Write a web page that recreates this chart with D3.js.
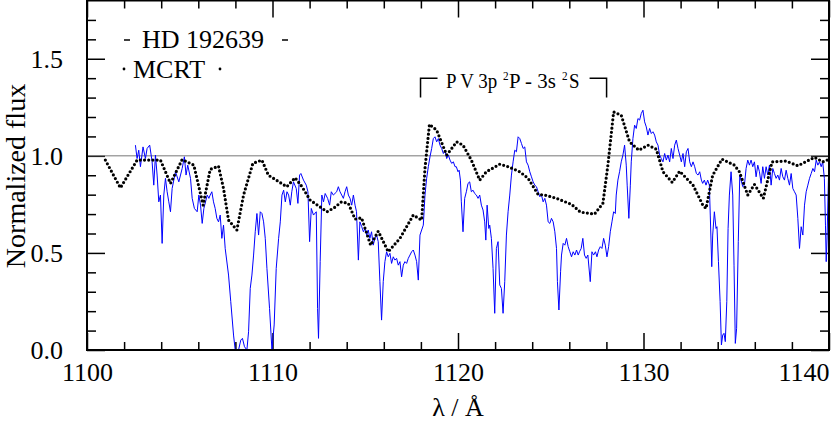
<!DOCTYPE html>
<html>
<head>
<meta charset="utf-8">
<script src="https://cdn.jsdelivr.net/npm/d3@7"></script>
<style>
body { margin: 0; background: #fff; }
</style>
</head>
<body>
<div id="spectrum"></div>
<script>
//
// Data read off the plot: observed spectrum (HD 192639) and MCRT model,
// as [wavelength (A), normalized flux] pairs
//
var observed = [
[1102.61,1.055],[1102.70,0.986],[1102.79,1.029],[1102.88,0.944],[1103.02,1.046],[1103.15,0.986],
[1103.24,1.038],[1103.38,1.055],[1103.51,0.969],[1103.60,0.849],[1103.69,1.004],[1103.78,0.901],
[1103.87,0.763],[1103.96,0.798],[1104.05,0.549],[1104.14,0.798],[1104.23,0.884],[1104.32,0.815],
[1104.41,0.763],[1104.50,0.712],[1104.59,0.832],[1104.77,0.918],[1104.95,0.866],[1105.13,0.935],
[1105.25,0.995],[1105.34,0.901],[1105.43,0.952],[1105.58,0.884],[1105.67,0.781],[1105.79,0.729],
[1105.94,0.712],[1106.03,0.798],[1106.12,0.746],[1106.21,0.652],[1106.30,0.729],[1106.48,0.798],
[1106.57,0.781],[1106.64,0.798],[1106.73,0.815],[1106.82,0.763],[1106.91,0.729],[1107.00,0.678],
[1107.09,0.660],[1107.18,0.695],[1107.27,0.575],[1107.36,0.643],[1107.45,0.523],[1107.63,0.386],
[1107.75,0.249],[1107.90,0.077],[1107.99,0.000],[1108.17,0.000],[1108.29,0.051],[1108.38,0.060],
[1108.49,0.017],[1108.62,0.000],[1108.71,0.094],[1108.80,0.317],[1108.89,0.386],[1108.98,0.489],
[1109.07,0.609],[1109.16,0.703],[1109.25,0.592],[1109.34,0.712],[1109.43,0.703],[1109.52,0.660],
[1109.61,0.575],[1109.70,0.420],[1109.84,0.214],[1109.97,0.000],[1110.09,0.129],[1110.20,0.420],
[1110.33,0.575],[1110.42,0.660],[1110.51,0.798],[1110.60,0.823],[1110.69,0.763],[1110.78,0.815],
[1110.87,0.798],[1110.96,0.746],[1111.04,0.815],[1111.13,0.866],[1111.28,0.832],[1111.37,0.755],
[1111.46,0.901],[1111.53,0.909],[1111.67,0.875],[1111.82,0.849],[1111.91,0.815],[1112.00,0.558],
[1112.09,0.729],[1112.21,0.695],[1112.36,0.712],[1112.43,0.214],[1112.48,0.060],[1112.57,0.455],
[1112.66,0.798],[1112.75,0.763],[1112.84,0.806],[1112.97,0.781],[1113.08,0.746],[1113.17,0.815],
[1113.28,0.798],[1113.46,0.815],[1113.55,0.841],[1113.64,0.815],[1113.73,0.798],[1113.82,0.781],
[1113.91,0.815],[1114.00,0.841],[1114.09,0.798],[1114.18,0.781],[1114.27,0.746],[1114.36,0.798],
[1114.45,0.746],[1114.53,0.712],[1114.63,0.463],[1114.71,0.660],[1114.81,0.635],[1114.90,0.609],
[1114.99,0.626],[1115.08,0.592],[1115.16,0.618],[1115.25,0.575],[1115.34,0.609],[1115.43,0.540],
[1115.52,0.575],[1115.61,0.592],[1115.70,0.558],[1115.79,0.352],[1115.88,0.154],[1115.97,0.352],
[1116.06,0.455],[1116.15,0.506],[1116.24,0.480],[1116.33,0.498],[1116.42,0.446],[1116.51,0.480],
[1116.60,0.463],[1116.69,0.472],[1116.78,0.437],[1116.87,0.455],[1116.96,0.377],[1117.05,0.437],
[1117.14,0.455],[1117.23,0.446],[1117.32,0.472],[1117.41,0.489],[1117.50,0.506],[1117.59,0.515],
[1117.68,0.489],[1117.77,0.455],[1117.86,0.360],[1117.95,0.592],[1118.04,0.618],[1118.13,0.643],
[1118.22,0.798],[1118.31,0.884],[1118.40,0.944],[1118.49,0.995],[1118.58,1.038],[1118.67,1.089],
[1118.76,1.098],[1118.85,1.072],[1118.94,1.089],[1119.03,1.055],[1119.12,1.038],[1119.21,1.012],
[1119.30,1.029],[1119.39,0.986],[1119.48,1.004],[1119.57,0.978],[1119.66,0.961],[1119.75,0.969],
[1119.84,0.944],[1119.91,0.944],[1120.00,0.918],[1120.06,0.926],[1120.13,0.875],[1120.18,0.763],
[1120.27,0.609],[1120.36,0.781],[1120.45,0.815],[1120.54,0.858],[1120.63,0.866],[1120.72,0.815],
[1120.81,0.823],[1120.90,0.806],[1120.99,0.798],[1121.08,0.781],[1121.17,0.798],[1121.26,0.746],
[1121.35,0.721],[1121.44,0.660],[1121.50,0.566],[1121.57,0.746],[1121.66,0.626],[1121.71,0.643],
[1121.80,0.575],[1121.89,0.420],[1121.98,0.189],[1122.07,0.523],[1122.16,0.558],[1122.25,0.335],
[1122.34,0.317],[1122.43,0.189],[1122.52,0.352],[1122.61,0.592],[1122.70,0.712],[1122.79,0.798],
[1122.88,0.901],[1122.97,0.969],[1123.06,1.029],[1123.15,1.021],[1123.24,1.098],[1123.33,1.089],
[1123.42,1.064],[1123.51,1.038],[1123.60,1.046],[1123.69,0.969],[1123.78,0.952],[1123.87,0.918],
[1123.96,0.892],[1124.05,0.866],[1124.14,0.849],[1124.23,0.841],[1124.32,0.815],[1124.41,0.789],
[1124.50,0.798],[1124.59,0.763],[1124.68,0.781],[1124.77,0.746],[1124.86,0.660],[1124.95,0.652],
[1125.04,0.678],[1125.13,0.660],[1125.22,0.609],[1125.31,0.523],[1125.36,0.352],[1125.44,0.206],
[1125.53,0.403],[1125.58,0.489],[1125.67,0.549],[1125.76,0.540],[1125.85,0.575],[1125.94,0.532],
[1126.03,0.506],[1126.12,0.480],[1126.21,0.506],[1126.30,0.489],[1126.39,0.515],[1126.48,0.489],
[1126.55,0.506],[1126.64,0.523],[1126.73,0.575],[1126.82,0.489],[1126.91,0.472],[1127.00,0.489],
[1127.13,0.352],[1127.22,0.506],[1127.31,0.489],[1127.41,0.506],[1127.49,0.480],[1127.58,0.515],
[1127.67,0.532],[1127.76,0.523],[1127.85,0.575],[1127.94,0.540],[1128.03,0.480],[1128.12,0.532],
[1128.21,0.609],[1128.30,0.660],[1128.39,0.712],[1128.48,0.703],[1128.53,0.798],[1128.62,0.875],
[1128.71,0.918],[1128.80,0.969],[1128.89,1.004],[1128.98,1.055],[1129.07,0.952],[1129.12,0.849],
[1129.21,0.678],[1129.29,0.849],[1129.34,0.969],[1129.43,1.089],[1129.52,1.158],[1129.61,1.141],
[1129.70,1.192],[1129.79,1.184],[1129.88,1.218],[1129.97,1.235],[1130.06,1.175],[1130.15,1.149],
[1130.24,1.107],[1130.33,1.141],[1130.42,1.115],[1130.51,1.124],[1130.60,1.107],[1130.69,1.072],
[1130.78,1.055],[1130.87,1.004],[1130.96,0.986],[1131.05,0.969],[1131.14,1.012],[1131.23,0.978],
[1131.32,1.004],[1131.41,0.969],[1131.50,1.038],[1131.59,0.986],[1131.68,1.055],[1131.77,1.081],
[1131.86,1.038],[1131.95,1.004],[1132.04,0.969],[1132.13,1.012],[1132.22,0.944],[1132.31,1.021],
[1132.40,1.038],[1132.49,0.969],[1132.58,0.944],[1132.67,0.969],[1132.76,0.944],[1132.85,0.909],
[1132.94,0.901],[1133.03,0.918],[1133.12,0.875],[1133.19,0.858],[1133.28,0.875],[1133.37,0.849],
[1133.46,0.875],[1133.55,0.849],[1133.60,0.695],[1133.68,0.429],[1133.73,0.592],[1133.82,0.712],
[1133.91,0.626],[1133.96,0.635],[1134.04,0.455],[1134.13,0.249],[1134.20,0.026],[1134.27,0.077],
[1134.34,0.086],[1134.41,0.043],[1134.49,0.249],[1134.56,0.626],[1134.63,0.798],[1134.72,0.918],
[1134.81,0.798],[1134.88,0.437],[1134.95,0.034],[1135.02,0.112],[1135.11,0.558],[1135.19,0.901],
[1135.26,0.875],[1135.35,0.841],[1135.44,0.849],[1135.53,0.935],[1135.62,0.978],[1135.71,0.952],
[1135.80,0.978],[1135.89,0.944],[1135.98,0.969],[1136.07,0.892],[1136.16,0.952],[1136.25,0.918],
[1136.34,0.858],[1136.43,0.944],[1136.52,0.884],[1136.61,0.944],[1136.70,0.901],[1136.79,0.952],
[1136.88,0.849],[1136.97,0.935],[1137.06,0.909],[1137.15,0.884],[1137.24,0.901],[1137.33,0.875],
[1137.42,0.935],[1137.51,0.892],[1137.60,0.875],[1137.69,0.926],[1137.78,0.884],[1137.87,0.849],
[1137.96,0.909],[1138.05,0.832],[1138.14,0.815],[1138.23,0.798],[1138.32,0.678],[1138.41,0.523],
[1138.50,0.635],[1138.59,0.592],[1138.68,0.746],[1138.77,0.815],[1138.86,0.849],[1138.95,0.884],
[1139.04,0.909],[1139.13,0.935],[1139.22,0.918],[1139.31,0.978],[1139.40,0.952],[1139.49,0.969],
[1139.58,0.944],[1139.66,0.969],[1139.75,0.884],[1139.81,0.643],[1139.85,0.455],[1139.90,0.592],
[1139.97,0.884],[1140.02,0.935],[1140.08,0.660]
];

var model = [
[1100.99,0.978],[1101.80,0.835],[1102.70,0.978],[1103.96,0.978],[1104.50,0.858],[1105.13,0.981],
[1105.76,0.952],[1106.26,0.746],[1106.64,0.930],[1107.09,0.947],[1107.36,0.832],[1107.63,0.669],
[1108.08,0.618],[1108.44,0.798],[1108.94,0.961],[1109.43,0.978],[1109.78,0.900],[1110.05,0.884],
[1110.77,0.841],[1111.22,0.887],[1111.59,0.841],[1112.03,0.772],[1112.94,0.712],[1113.33,0.733],
[1113.72,0.763],[1114.09,0.755],[1114.45,0.674],[1114.80,0.681],[1115.29,0.540],[1115.70,0.612],
[1116.24,0.506],[1116.87,0.575],[1117.59,0.695],[1118.04,0.669],[1118.22,0.935],[1118.46,1.162],
[1118.85,1.132],[1119.39,1.004],[1119.93,1.072],[1120.27,1.055],[1120.72,0.978],[1121.17,0.875],
[1121.53,0.918],[1122.25,0.957],[1122.70,0.944],[1123.33,0.918],[1123.78,0.884],[1124.32,0.801],
[1124.68,0.798],[1125.31,0.781],[1126.12,0.750],[1126.60,0.710],[1127.36,0.700],[1127.81,0.755],
[1128.08,0.952],[1128.39,1.226],[1128.80,1.209],[1129.25,1.072],[1129.75,1.029],[1130.24,1.055],
[1130.69,1.034],[1131.05,0.918],[1131.55,0.863],[1131.95,0.921],[1132.67,0.849],[1133.20,0.746],
[1133.37,0.729],[1133.73,0.900],[1134.23,0.983],[1134.90,0.952],[1135.17,0.918],[1135.62,0.798],
[1135.98,0.853],[1136.46,0.781],[1136.93,0.969],[1137.68,0.973],[1138.32,0.949],[1139.22,0.992],
[1139.66,0.969],[1140.10,0.986]
];

var seriesNames = ["HD 192639", "MCRT"];

// tick values
var xMajor = [1100, 1110, 1120, 1130, 1140];
var xMinor = [1102, 1104, 1106, 1108, 1112, 1114, 1116, 1118, 1122, 1124, 1126, 1128, 1132, 1134, 1136, 1138];
var yMajor = [0.0, 0.5, 1.0, 1.5];
var yMinor = [0.1, 0.2, 0.3, 0.4, 0.6, 0.7, 0.8, 0.9, 1.1, 1.2, 1.3, 1.4, 1.6, 1.7];

// P V doublet marks (rest wavelengths) and bracket flux levels
var pvLines = [1117.98, 1128.01];
var pvLevels = [1.3, 1.4];

var serif = "'Liberation Serif', 'Times New Roman', Times, serif";

//
// size and margins
//
var margin = {top: 0.5, right: 2, bottom: 72, left: 87};
var width = 831 - margin.left - margin.right;
var height = 422 - margin.top - margin.bottom;

var x = d3.scaleLinear().domain([1100, 1140]).range([0, width]);
var y = d3.scaleLinear().domain([0, 1.8]).range([height, 0]);

var svg = d3.select("#spectrum").append("svg")
	.attr("width", 831)
	.attr("height", 422)
	.append("g")
	.attr("transform", "translate(" + margin.left + "," + margin.top + ")");

svg.append("clipPath")
	.attr("id", "plotclip")
	.append("rect")
	.attr("width", width)
	.attr("height", height);

// helper for all text
function addText(parent, px, py, size, str) {
	return parent.append("text")
		.attr("x", px)
		.attr("y", py)
		.style("font-family", serif)
		.style("font-size", size + "px")
		.style("fill", "#000")
		.text(str);
}

//
// axes: ticks point inward on all four sides
//
function styleAxis(g) {
	g.select(".domain").remove();
	g.selectAll("line").attr("stroke", "#000").attr("stroke-width", 1.5);
	g.selectAll("text")
		.style("font-family", serif)
		.style("font-size", "26px")
		.style("fill", "#000");
}

svg.append("g")
	.attr("transform", "translate(0," + height + ")")
	.call(d3.axisBottom(x).tickValues(xMajor).tickSize(-17).tickSizeOuter(0).tickPadding(13).tickFormat(d3.format("d")))
	.call(styleAxis)
	.call(function(g) {
		g.selectAll(".tick text").filter(function(d) { return d === 1140; }).attr("text-anchor", "end");
	});
svg.append("g")
	.attr("transform", "translate(0," + height + ")")
	.call(d3.axisBottom(x).tickValues(xMinor).tickSize(-8).tickFormat(""))
	.call(styleAxis);
svg.append("g")
	.call(d3.axisTop(x).tickValues(xMajor).tickSize(-17).tickFormat(""))
	.call(styleAxis);
svg.append("g")
	.call(d3.axisTop(x).tickValues(xMinor).tickSize(-8).tickFormat(""))
	.call(styleAxis);

svg.append("g")
	.call(d3.axisLeft(y).tickValues(yMajor).tickSize(-18).tickPadding(24).tickFormat(d3.format(".1f")))
	.call(styleAxis);
svg.append("g")
	.call(d3.axisLeft(y).tickValues(yMinor).tickSize(-9).tickFormat(""))
	.call(styleAxis);
svg.append("g")
	.attr("transform", "translate(" + width + ",0)")
	.call(d3.axisRight(y).tickValues(yMajor).tickSize(-18).tickFormat(""))
	.call(styleAxis);
svg.append("g")
	.attr("transform", "translate(" + width + ",0)")
	.call(d3.axisRight(y).tickValues(yMinor).tickSize(-9).tickFormat(""))
	.call(styleAxis);

//
// axis titles
//
addText(svg, width / 2, height + 66, 26, "\u03bb / \u00c5")
	.attr("text-anchor", "middle");

addText(svg, 0, 0, 28, "Normalized flux")
	.attr("transform", "translate(" + (25 - margin.left) + "," + (176 - margin.top) + ") rotate(-90)")
	.attr("text-anchor", "middle");

//
// continuum level at 1.0
//
svg.append("line")
	.attr("x1", 0).attr("x2", width)
	.attr("y1", y(1)).attr("y2", y(1))
	.attr("stroke", "#777")
	.attr("stroke-width", 1);

//
// spectra
//
var line = d3.line()
	.x(function(d) { return x(d[0]); })
	.y(function(d) { return y(d[1]); });

var plot = svg.append("g").attr("clip-path", "url(#plotclip)");

plot.append("path")
	.datum(observed)
	.attr("d", line)
	.attr("fill", "none")
	.attr("stroke", "#0000ff")
	.attr("stroke-width", 1);

plot.append("path")
	.datum(model)
	.attr("d", line)
	.attr("fill", "none")
	.attr("stroke", "#000")
	.attr("stroke-width", 3.2)
	.attr("stroke-linecap", "round")
	.attr("stroke-dasharray", "0,4.2");

// frame
svg.append("rect")
	.attr("width", width)
	.attr("height", height)
	.attr("fill", "none")
	.attr("stroke", "#000")
	.attr("stroke-width", 2);

//
// legend
//
var legend = svg.append("g").attr("transform", "translate(" + (-margin.left) + "," + (-margin.top) + ")");

addText(legend, 142, 48, 26, seriesNames[0]);
addText(legend, 133, 78, 26, seriesNames[1]);
[[124, 130], [282, 288]].forEach(function(p) {
	legend.append("line").attr("x1", p[0]).attr("x2", p[1]).attr("y1", 40).attr("y2", 40)
		.attr("stroke", "#000").attr("stroke-width", 1.5);
});
[124, 220].forEach(function(px) {
	legend.append("circle").attr("cx", px).attr("cy", 69).attr("r", 1.4).attr("fill", "#000");
});

//
// P V 3p 2P - 3s 2S bracket
//
var bracket = svg.append("g").attr("stroke", "#000").attr("stroke-width", 1.5).attr("fill", "none");
bracket.append("path")
	.attr("d", "M" + x(pvLines[0]) + "," + y(pvLevels[0]) + "V" + y(pvLevels[1]) + "H" + (x(pvLines[0]) + 17));
bracket.append("path")
	.attr("d", "M" + (x(pvLines[1]) - 17) + "," + y(pvLevels[1]) + "H" + x(pvLines[1]) + "V" + y(pvLevels[0]));

// label pieces, narrowed like the original; superscripts as separate texts
var pv = svg.append("g").attr("transform", "translate(" + (-margin.left) + "," + (-margin.top) + ")");
function pvPiece(px, py, size, sx, str) {
	addText(pv, 0, 0, size, str).attr("transform", "translate(" + px + "," + py + ") scale(" + sx + ",1)");
}
pvPiece(446, 88, 22, 0.86, "P V 3p");
pvPiece(503, 80, 13, 0.86, "2");
pvPiece(509, 88, 22, 0.95, "P - 3s");
pvPiece(562, 80, 13, 0.86, "2");
pvPiece(569, 88, 22, 0.86, "S");
</script>
</body>
</html>
